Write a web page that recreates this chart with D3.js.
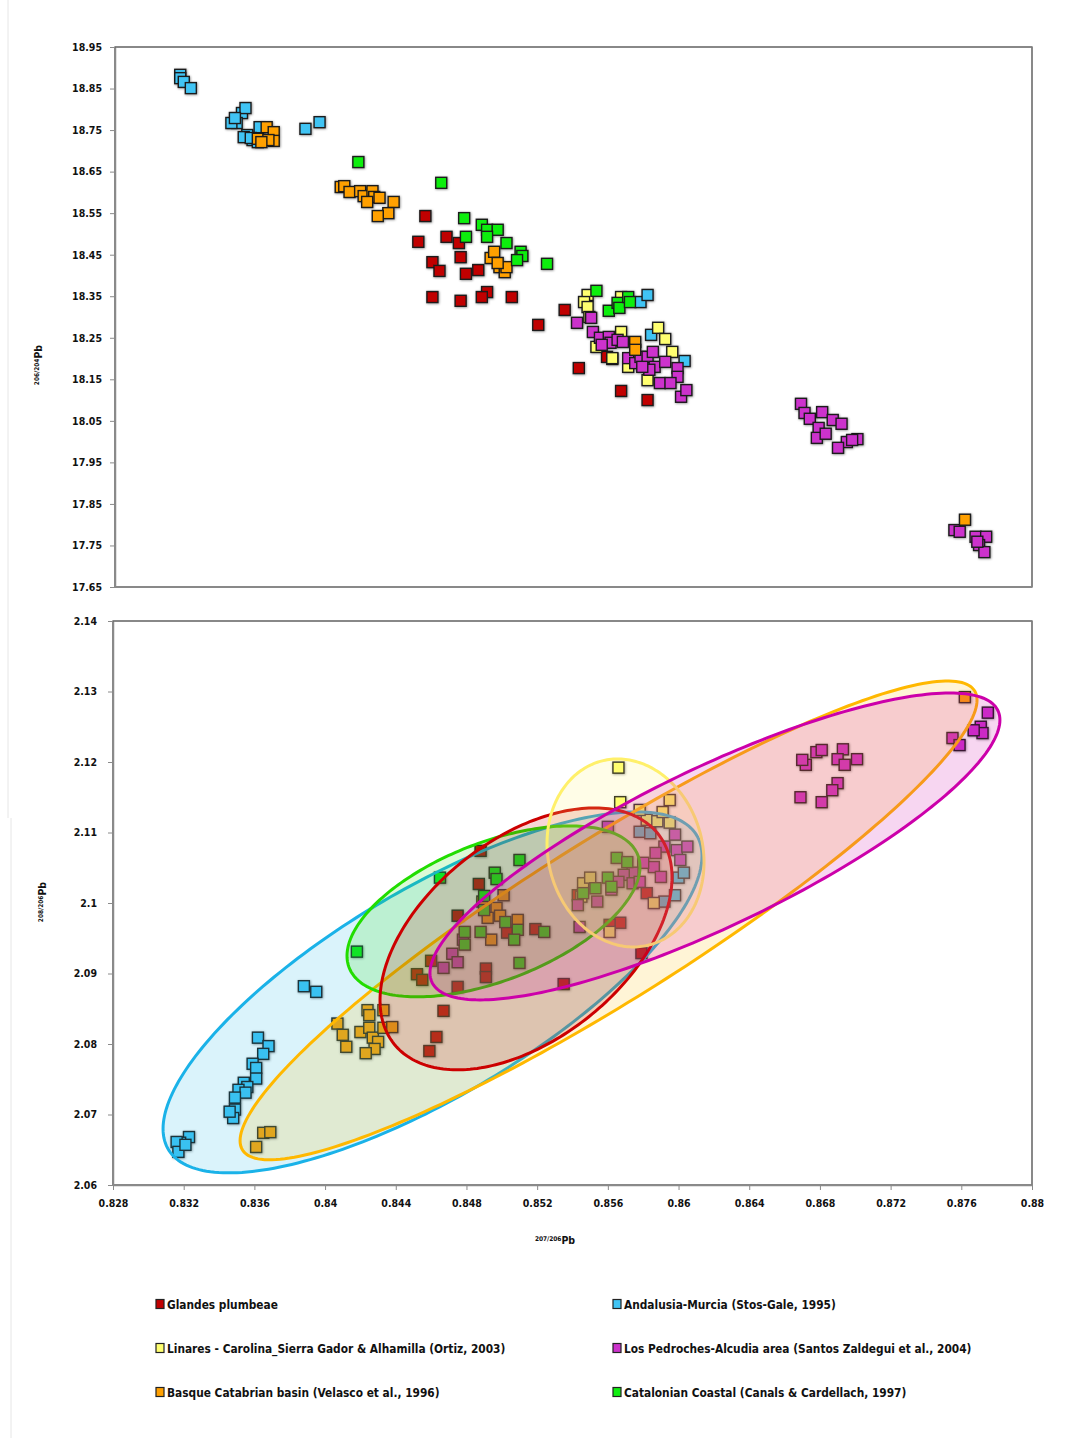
<!DOCTYPE html>
<html><head><meta charset="utf-8">
<script src="https://cdn.jsdelivr.net/npm/d3@7"></script>
<style>
body{margin:0;background:#fff}
svg{display:block}
text{font-family:"DejaVu Sans Condensed","DejaVu Sans",sans-serif}
</style>
</head><body>
<svg id="chart" width="1070" height="1438"></svg>
<script>
// ---- series ----
const seriesNames = [
  "Glandes plumbeae",
  "Andalusia-Murcia (Stos-Gale, 1995)",
  "Linares - Carolina_Sierra Gador & Alhamilla (Ortiz, 2003)",
  "Los Pedroches-Alcudia area (Santos Zaldegui et al., 2004)",
  "Basque Catabrian basin (Velasco et al., 1996)",
  "Catalonian Coastal (Canals & Cardellach, 1997)"
];
const seriesColors = ["#c00000", "#40c4f4", "#ffff70", "#cc33cc", "#ffa000", "#11ee11"];
const ellipseStroke = ["#cc0000", "#1ab2e8", "#fff06a", "#cc00aa", "#ffb800", "#22dd00"];

// ---- 207/206Pb vs 206/204Pb ----
const glandesUpper = [[0.8456,18.543],[0.8452,18.481],[0.8468,18.493],[0.8475,18.478],[0.8476,18.444],[0.8460,18.432],[0.8464,18.411],[0.8479,18.404],[0.8486,18.413],[0.8491,18.360],[0.8488,18.348],[0.8476,18.339],[0.8460,18.348],[0.8505,18.348],[0.8520,18.281],[0.8535,18.317],[0.8543,18.177],[0.8567,18.122],[0.8582,18.100],[0.8559,18.204],[0.8562,18.199]];
const andalusiaUpper = [[0.8317,18.883],[0.8317,18.875],[0.8319,18.866],[0.8323,18.851],[0.8352,18.791],[0.8354,18.803],[0.8349,18.767],[0.8346,18.767],[0.8348,18.779],[0.8355,18.738],[0.8353,18.733],[0.8358,18.726],[0.8361,18.721],[0.8362,18.757],[0.8357,18.731],[0.8388,18.753],[0.8396,18.769],[0.8578,18.336],[0.8582,18.353],[0.8584,18.257],[0.8603,18.194]];
const linaresUpper = [[0.8548,18.353],[0.8546,18.336],[0.8548,18.324],[0.8549,18.300],[0.8553,18.228],[0.8562,18.201],[0.8567,18.264],[0.8567,18.348],[0.8588,18.274],[0.8592,18.247],[0.8596,18.216],[0.8582,18.148],[0.8571,18.180]];
const pedrochesUpper = [[0.8542,18.286],[0.8550,18.298],[0.8551,18.264],[0.8555,18.250],[0.8560,18.252],[0.8561,18.238],[0.8565,18.245],[0.8568,18.240],[0.8556,18.233],[0.8571,18.201],[0.8575,18.189],[0.8578,18.204],[0.8582,18.204],[0.8585,18.216],[0.8586,18.180],[0.8592,18.192],[0.8599,18.177],[0.8599,18.156],[0.8589,18.141],[0.8595,18.141],[0.8601,18.108],[0.8604,18.124],[0.8583,18.173],[0.8579,18.180],
  [0.8669,18.091],[0.8671,18.069],[0.8674,18.055],[0.8681,18.071],[0.8679,18.033],[0.8678,18.009],[0.8683,18.019],[0.8687,18.052],[0.8692,18.043],[0.8695,17.999],[0.8690,17.985],[0.8701,18.006],[0.8698,18.004],
  [0.8756,17.787],[0.8759,17.783],[0.8768,17.771],[0.8774,17.771],[0.8770,17.751],[0.8773,17.734],[0.8769,17.759]];
const basqueUpper = [[0.8366,18.757],[0.8370,18.745],[0.8361,18.729],[0.8370,18.724],[0.8367,18.726],[0.8363,18.721],
  [0.8408,18.613],[0.8410,18.615],[0.8413,18.601],[0.8419,18.603],[0.8421,18.591],[0.8426,18.603],[0.8427,18.589],[0.8423,18.577],[0.8438,18.577],[0.8435,18.550],[0.8429,18.543],[0.8430,18.587],
  [0.8493,18.442],[0.8495,18.457],[0.8498,18.420],[0.8501,18.408],[0.8502,18.420],[0.8497,18.430],
  [0.8575,18.240],[0.8575,18.221],[0.8762,17.812]];
const catalonianUpper = [[0.8418,18.673],[0.8465,18.623],[0.8478,18.538],[0.8488,18.522],[0.8491,18.510],[0.8497,18.510],[0.8491,18.493],[0.8479,18.493],[0.8502,18.478],[0.8510,18.457],[0.8511,18.447],[0.8508,18.437],[0.8525,18.428],
  [0.8553,18.363],[0.8560,18.315],[0.8565,18.334],[0.8566,18.322],[0.8571,18.348],[0.8572,18.336]];

// ---- 207/206Pb vs 208/206Pb ----
const glandesLower = [[0.8488,2.1074],[0.8487,2.1027],[0.8475,2.0982],[0.8452,2.0899],[0.8455,2.0891],[0.8460,2.0918],[0.8475,2.0881],[0.8491,2.0907],[0.8491,2.0895],[0.8467,2.0847],[0.8463,2.0810],[0.8459,2.0790],[0.8519,2.0963],[0.8535,2.0885],[0.8503,2.0958],[0.8543,2.1011],[0.8567,2.0972],[0.8582,2.1014],[0.8579,2.0929],[0.8561,2.0969]];
const andalusiaLower = [[0.8388,2.0882],[0.8395,2.0874],[0.8362,2.0809],[0.8368,2.0797],[0.8365,2.0786],[0.8359,2.0772],[0.8361,2.0766],[0.8361,2.0751],[0.8354,2.0745],[0.8356,2.0739],[0.8351,2.0735],[0.8355,2.0731],[0.8349,2.0724],[0.8349,2.0707],[0.8348,2.0695],[0.8346,2.0704],[0.8323,2.0668],[0.8318,2.0660],[0.8316,2.0661],[0.8317,2.0647],[0.8321,2.0657],
  [0.8578,2.1101],[0.8584,2.1099],[0.8600,2.1036],[0.8603,2.1043],[0.8592,2.1002],[0.8598,2.1011]];
const linaresLower = [[0.8566,2.1192],[0.8567,2.1143],[0.8595,2.1146],[0.8582,2.1118],[0.8588,2.1116],[0.8595,2.1114],[0.8578,2.1132],[0.8591,2.1129],[0.8546,2.1028],[0.8550,2.1036],[0.8545,2.1009],[0.8586,2.1000],[0.8561,2.0959]];
const pedrochesLower = [[0.8467,2.0908],[0.8472,2.0928],[0.8475,2.0916],[0.8478,2.0948],
  [0.8560,2.1108],[0.8598,2.1097],[0.8592,2.1080],[0.8599,2.1075],[0.8605,2.1080],[0.8587,2.1071],[0.8601,2.1061],[0.8586,2.1051],[0.8580,2.1057],[0.8590,2.1037],[0.8574,2.1043],[0.8569,2.1040],[0.8562,2.1019],[0.8554,2.1002],[0.8543,2.0997],[0.8544,2.0966],[0.8574,2.1028],[0.8578,2.1030],[0.8566,2.1030],
  [0.8672,2.1196],[0.8670,2.1203],[0.8678,2.1214],[0.8681,2.1217],[0.8693,2.1218],[0.8690,2.1204],[0.8694,2.1196],[0.8701,2.1204],[0.8690,2.1170],[0.8687,2.1160],[0.8669,2.1150],[0.8681,2.1143],
  [0.8755,2.1234],[0.8759,2.1224],[0.8771,2.1250],[0.8775,2.1270],[0.8772,2.1241],[0.8767,2.1245]];
const basqueLower = [[0.8407,2.0829],[0.8410,2.0813],[0.8412,2.0796],[0.8424,2.0848],[0.8425,2.0841],[0.8433,2.0848],[0.8420,2.0817],[0.8425,2.0823],[0.8427,2.0809],[0.8430,2.0803],[0.8428,2.0793],[0.8423,2.0787],[0.8433,2.0823],[0.8438,2.0824],
  [0.8365,2.0674],[0.8369,2.0675],[0.8361,2.0654],
  [0.8501,2.1011],[0.8497,2.0993],[0.8492,2.0979],[0.8499,2.0982],[0.8509,2.0976],[0.8494,2.0948],[0.8489,2.1002],[0.8762,2.1292]];
const catalonianLower = [[0.8418,2.0931],[0.8465,2.1036],[0.8510,2.1061],[0.8496,2.1043],[0.8497,2.1034],[0.8490,2.1010],[0.8490,2.0990],[0.8479,2.0959],[0.8479,2.0941],[0.8488,2.0959],[0.8502,2.0973],[0.8509,2.0962],[0.8507,2.0948],[0.8524,2.0959],[0.8510,2.0915],
  [0.8565,2.1064],[0.8571,2.1058],[0.8560,2.1036],[0.8553,2.1021],[0.8562,2.1023],[0.8546,2.1014]];

const upperSeries = [glandesUpper, andalusiaUpper, linaresUpper, pedrochesUpper, basqueUpper, catalonianUpper];
const lowerSeries = [glandesLower, andalusiaLower, linaresLower, pedrochesLower, basqueLower, catalonianLower];

// Field ellipses (centre, half-extent along each axis, correlation), in ratio units
const ellipseOrder = [1, 4, 5, 0, 2, 3];
const ellipseCx = [0.85137, 0.84608, 0.85700, 0.86206, 0.85604, 0.84953];
const ellipseCy = [2.09491, 2.08732, 2.10710, 2.10802, 2.09753, 2.09881];
const ellipseSx = [0.008261, 0.015248, 0.004442, 0.016125, 0.02085, 0.008289];
const ellipseSy = [0.018576, 0.02560, 0.01333, 0.021766, 0.03396, 0.012124];
const ellipseR  = [0.47, 0.756, -0.10, 0.824, 0.92, 0.52];

// ---- ticks ----
const upperYTicks = [17.65,17.75,17.85,17.95,18.05,18.15,18.25,18.35,18.45,18.55,18.65,18.75,18.85,18.95];
const lowerYTicks = [2.06,2.07,2.08,2.09,2.10,2.11,2.12,2.13,2.14];
const lowerXTicks = [0.828,0.832,0.836,0.840,0.844,0.848,0.852,0.856,0.860,0.864,0.868,0.872,0.876,0.880];

// ---- layout ----
const svg = d3.select("#chart");
const xUpper = d3.scaleLinear().domain([0.828, 0.88]).range([115, 1032]);
const yUpper = d3.scaleLinear().domain([17.65, 18.95]).range([587, 47]);
const xLower = d3.scaleLinear().domain([0.828, 0.88]).range([113, 1032]);
const yLower = d3.scaleLinear().domain([2.06, 2.14]).range([1185, 621]);

const defs = svg.append("defs");
const sh = defs.append("filter").attr("id", "soft").attr("x", "-50%").attr("y", "-50%").attr("width", "200%").attr("height", "200%");
sh.append("feDropShadow").attr("dx", 0.6).attr("dy", 0.6).attr("stdDeviation", 0.9)
  .attr("flood-color", "#000").attr("flood-opacity", 0.45);

// faint page edge
svg.append("line").attr("x1", 8).attr("x2", 8).attr("y1", 0).attr("y2", 818).attr("stroke", "#e6e6e6");
svg.append("line").attr("x1", 11).attr("x2", 11).attr("y1", 818).attr("y2", 1438).attr("stroke", "#e6e6e6");

const trim = d => String(+d.toFixed(3));

function frame(x, y) {
  svg.append("rect")
    .attr("x", x.range()[0]).attr("y", y.range()[1])
    .attr("width", x.range()[1] - x.range()[0]).attr("height", y.range()[0] - y.range()[1])
    .attr("fill", "none").attr("stroke", "#3a3a3a").attr("stroke-width", 1.2);
}
function styleAxis(g) {
  g.select(".domain").attr("stroke", "#8a8a8a").attr("stroke-width", 1.5);
  g.selectAll(".tick line").attr("stroke", "#8a8a8a");
  g.selectAll(".tick text").attr("font-size", 10.5).attr("font-weight", "bold").attr("fill", "#111")
    .attr("font-family", "'DejaVu Sans Condensed','DejaVu Sans',sans-serif");
}

function drawPoints(x, y, list) {
  const g = svg.append("g").attr("filter", "url(#soft)");
  list.forEach((pts, i) => {
    g.append("g").selectAll("rect").data(pts).join("rect")
      .attr("x", d => x(d[0]) - 5.5).attr("y", d => y(d[1]) - 5.5)
      .attr("width", 11).attr("height", 11)
      .attr("fill", seriesColors[i]).attr("stroke", "#1a1a1a").attr("stroke-width", 1.4);
  });
}

// ---- upper panel ----
frame(xUpper, yUpper);
svg.append("g").attr("transform", "translate(115,0)")
  .call(d3.axisLeft(yUpper).tickValues(upperYTicks).tickFormat(d3.format(".2f")).tickSize(5).tickSizeOuter(0).tickPadding(8))
  .call(styleAxis);
svg.append("line").attr("x1", 115).attr("x2", 1032).attr("y1", 587).attr("y2", 587).attr("stroke", "#8a8a8a").attr("stroke-width", 1.5);
svg.append("line").attr("x1", 1032).attr("x2", 1032).attr("y1", 47).attr("y2", 587).attr("stroke", "#8a8a8a").attr("stroke-width", 1.5);
drawPoints(xUpper, yUpper, upperSeries);

// ---- lower panel ----
frame(xLower, yLower);
svg.append("g").attr("transform", "translate(113,0)")
  .call(d3.axisLeft(yLower).tickValues(lowerYTicks).tickFormat(trim).tickSize(5).tickSizeOuter(0).tickPadding(11))
  .call(styleAxis);
svg.append("g").attr("transform", "translate(0,1185)")
  .call(d3.axisBottom(xLower).tickValues(lowerXTicks).tickFormat(trim).tickSize(5).tickSizeOuter(0).tickPadding(10))
  .call(styleAxis);
svg.append("line").attr("x1", 1032).attr("x2", 1032).attr("y1", 621).attr("y2", 1185).attr("stroke", "#8a8a8a").attr("stroke-width", 1.5);
drawPoints(xLower, yLower, lowerSeries);

// field ellipses over the points
const ring = d3.line().curve(d3.curveLinearClosed);
ellipseOrder.forEach(i => {
  const pts = d3.range(0, 240).map(k => {
    const t = k / 240 * 2 * Math.PI;
    const ex = ellipseCx[i] + ellipseSx[i] * Math.cos(t);
    const ey = ellipseCy[i] + ellipseSy[i] * (ellipseR[i] * Math.cos(t) + Math.sqrt(1 - ellipseR[i] * ellipseR[i]) * Math.sin(t));
    return [xLower(ex), yLower(ey)];
  });
  svg.append("path").attr("d", ring(pts))
    .attr("fill", ellipseStroke[i]).attr("fill-opacity", 0.16)
    .attr("stroke", ellipseStroke[i]).attr("stroke-width", 3);
});

// ---- axis titles ----
function isoLabel(g, top, tail) {
  const t = g.append("text").attr("fill", "#111").attr("font-weight", "bold");
  t.append("tspan").attr("font-size", 6.5).attr("dy", -3).text(top);
  t.append("tspan").attr("font-size", 10.5).attr("dy", 3).text(tail);
  return t;
}
isoLabel(svg.append("g").attr("transform", "translate(42,365) rotate(-90)"), "206/204", "Pb").attr("text-anchor", "middle");
isoLabel(svg.append("g").attr("transform", "translate(46,902) rotate(-90)"), "208/206", "Pb").attr("text-anchor", "middle");
isoLabel(svg.append("g").attr("transform", "translate(555,1244)"), "207/206", "Pb").attr("text-anchor", "middle");

// ---- legend ----
const legendX = [156, 613];
const legendY = [1304, 1348, 1392];
seriesNames.forEach((name, i) => {
  const lx = legendX[i % 2], ly = legendY[Math.floor(i / 2)];
  svg.append("rect").attr("x", lx).attr("y", ly - 4.5).attr("width", 8).attr("height", 9)
    .attr("fill", seriesColors[i]).attr("stroke", "#222").attr("stroke-width", 1.2);
  svg.append("text").attr("x", lx + 11).attr("y", ly + 4.5)
    .attr("font-size", 11.8).attr("font-weight", "bold").attr("fill", "#111").text(name);
});
</script>
</body></html>
